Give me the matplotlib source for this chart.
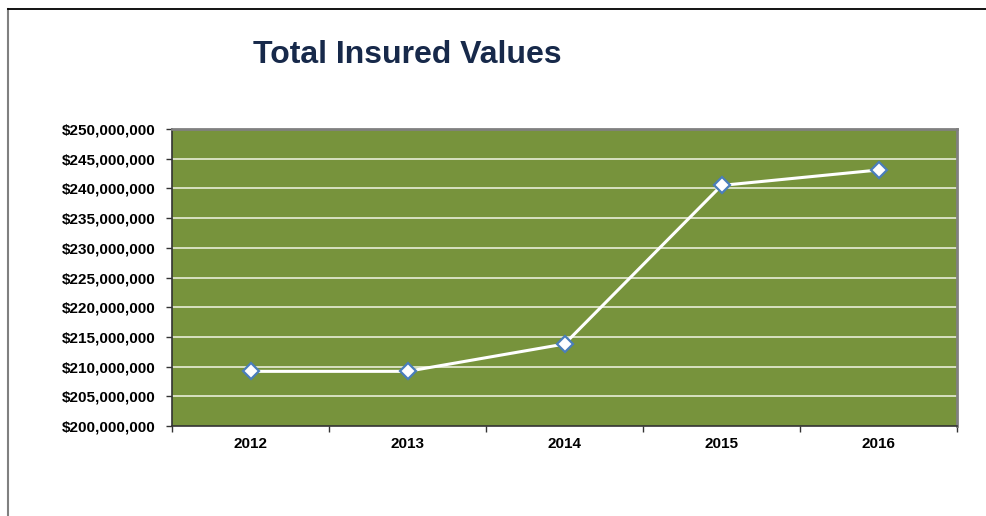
import matplotlib.pyplot as plt
from matplotlib.lines import Line2D
from matplotlib.ticker import FuncFormatter, FixedLocator

plt.rcParams['font.family'] = ['Liberation Sans', 'DejaVu Sans']

years = ['2012', '2013', '2014', '2015', '2016']
insured_values = [209200000, 209200000, 213800000, 240500000, 243100000]
y_ticks = list(range(200000000, 250000001, 5000000))

fig = plt.figure(figsize=(9.86, 5.16), dpi=100)
ax = fig.add_axes([172 / 986, 90 / 516, 785 / 986, 297 / 516])
ax.set_facecolor('#77933C')

# gridlines
for v in y_ticks[1:-1]:
    ax.axhline(v, color='#e8eed8', lw=1.2, zorder=1)

x = range(len(years))
ax.plot(x, insured_values, color='white', lw=2.2, zorder=3,
        marker='D', markersize=8, markerfacecolor='white',
        markeredgecolor='#4A7EBB', markeredgewidth=1.6)

ax.set_xlim(-0.5, len(years) - 0.5)
ax.set_ylim(200000000, 250000000)
ax.set_yticks(y_ticks)
ax.yaxis.set_major_formatter(FuncFormatter(lambda v, p: '${:,.0f}'.format(v)))

ax.set_xticks(list(x))
ax.set_xticklabels(years)
ax.xaxis.set_minor_locator(FixedLocator([i - 0.5 for i in range(len(years) + 1)]))
ax.tick_params(axis='x', which='major', length=0, pad=8)
ax.tick_params(axis='x', which='minor', length=4, width=1, color='#333333', direction='out')
ax.tick_params(axis='y', length=4, width=1, color='#333333', direction='out', pad=8)

for lbl in ax.get_xticklabels() + ax.get_yticklabels():
    lbl.set_fontsize(11)
    lbl.set_fontweight('bold')
    lbl.set_color('black')

ax.spines['left'].set_color('#333333')
ax.spines['bottom'].set_color('#333333')
ax.spines['left'].set_linewidth(1.2)
ax.spines['bottom'].set_linewidth(1.2)
ax.spines['top'].set_color('#808080')
ax.spines['right'].set_color('#808080')
ax.spines['top'].set_linewidth(2)
ax.spines['right'].set_linewidth(2)

fig.text(407 / 986, 1 - 55 / 516, 'Total Insured Values', fontsize=23,
         fontweight='bold', color='#17294A', ha='center', va='center')

# outer frame lines
fig.add_artist(Line2D([8 / 986, 8 / 986], [0, 1 - 9 / 516], color='#808080', lw=1.5,
                      transform=fig.transFigure))
fig.add_artist(Line2D([8 / 986, 1], [1 - 9 / 516, 1 - 9 / 516], color='black', lw=1.3,
                      transform=fig.transFigure))

fig.savefig('out.png', dpi=100)
